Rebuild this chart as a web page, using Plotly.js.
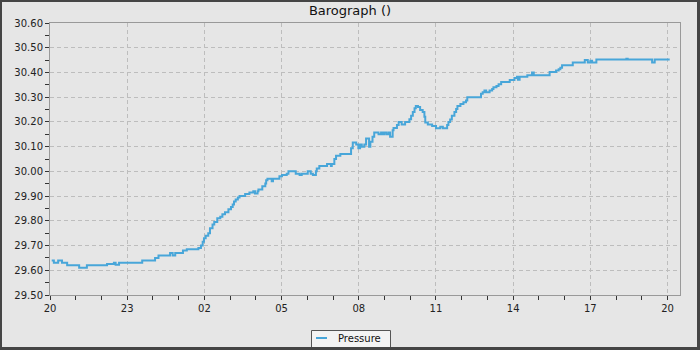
<!DOCTYPE html>
<html>
<head>
<meta charset="utf-8">
<script src="https://cdn.plot.ly/plotly-3.0.1.min.js"></script>
<style>
html,body{margin:0;padding:0;background:#e6e6e6;}
#wrap{position:relative;width:700px;height:350px;}
#chart{width:700px;height:350px;}
#frame{position:absolute;left:0;top:0;width:700px;height:350px;box-sizing:border-box;border-style:solid;border-color:#454545;border-width:2px 3px 3px 2px;pointer-events:none;}
</style>
</head>
<body>
<div id="wrap"><div id="chart"></div><div id="frame"></div></div>
<script>
// Start of record and minutes elapsed since then for each reading
const startTime = '2024-01-01T20:00:00';
const minutes = [4,9,19,28,40,68,86,133,149,153,161,215,245,253,280,286,292,310,319,346,352,356,359,363,369,373,379,383,390,397,402,408,416,422,426,429,433,438,442,455,465,474,478,484,486,495,502,504,507,517,520,535,541,552,556,573,582,587,601,608,613,620,622,628,646,655,657,663,667,677,702,706,714,719,723,727,733,737,744,747,752,756,766,772,776,779,784,789,793,799,801,809,813,820,828,838,842,846,850,853,858,863,869,873,875,881,891,900,910,916,926,929,933,937,943,947,950,957,964,970,973,1005,1009,1013,1017,1025,1031,1034,1041,1046,1052,1072,1083,1089,1091,1095,1113,1124,1128,1165,1180,1186,1190,1194,1219,1247,1254,1260,1264,1274,1344,1347,1404,1410,1445];
const pressure = [29.64,29.63,29.64,29.63,29.62,29.61,29.62,29.625,29.63,29.622,29.63,29.64,29.65,29.66,29.67,29.66,29.67,29.68,29.685,29.69,29.70,29.715,29.73,29.74,29.75,29.77,29.785,29.795,29.81,29.816,29.827,29.835,29.847,29.856,29.866,29.878,29.886,29.894,29.90,29.908,29.915,29.92,29.91,29.92,29.927,29.94,29.951,29.964,29.97,29.96,29.97,29.98,29.985,29.99,30.00,29.99,29.985,29.99,30.00,29.99,29.985,30.00,30.012,30.022,30.03,30.022,30.03,30.05,30.063,30.07,30.093,30.117,30.109,30.093,30.109,30.10,30.109,30.133,30.10,30.12,30.14,30.157,30.15,30.157,30.15,30.157,30.15,30.157,30.14,30.166,30.175,30.187,30.20,30.19,30.20,30.211,30.225,30.24,30.255,30.264,30.26,30.248,30.24,30.221,30.198,30.19,30.183,30.174,30.18,30.174,30.187,30.20,30.21,30.225,30.24,30.252,30.264,30.272,30.28,30.287,30.30,30.314,30.32,30.327,30.32,30.327,30.333,30.34,30.345,30.352,30.361,30.369,30.378,30.383,30.37,30.383,30.389,30.40,30.389,30.402,30.408,30.413,30.419,30.429,30.44,30.45,30.44,30.447,30.44,30.452,30.455,30.452,30.44,30.452,30.452];
const seriesName = 'Pressure';
const chartTitle = 'Barograph ()';
const rangeEndMinutes = 1469;

function pad(n){return (n<10?'0':'')+n;}
function fmt(d){return d.getFullYear()+'-'+pad(d.getMonth()+1)+'-'+pad(d.getDate())+' '+pad(d.getHours())+':'+pad(d.getMinutes())+':00';}
const t0 = new Date(startTime);
const times = minutes.map(m => fmt(new Date(t0.getTime()+m*60000)));
const xEnd = fmt(new Date(t0.getTime()+rangeEndMinutes*60000));

const font = {family:'DejaVu Sans, sans-serif', size:10, color:'#222'};
const lineColor = '#48a6d9';

const trace = {
  x: times, y: pressure, type:'scatter', mode:'lines', name: seriesName,
  line:{color:lineColor, width:2, shape:'hv'}
};

const L = 50, R = 680, T = 23, B = 295;
function px(x){return (x-L)/(R-L);}
function py(y){return (B-y)/(B-T);}

const layout = {
  width:700, height:350,
  margin:{l:50, r:20, t:23, b:55},
  paper_bgcolor:'#e6e6e6', plot_bgcolor:'#e6e6e6',
  font: font,
  showlegend:false,
  title:{text: chartTitle, font:{family:'DejaVu Sans, sans-serif', size:13, color:'#111'}, x:0.5, xref:'container', y:1-10.5/350, yref:'container', yanchor:'middle'},
  xaxis:{
    type:'date', range:[fmt(t0), xEnd],
    tick0: fmt(t0), dtick: 3*3600000, tickformat:'%H',
    ticks:'outside', ticklen:4, tickcolor:'#333', tickwidth:1,
    showline:true, mirror:true, linecolor:'#999', linewidth:1,
    showgrid:true, gridcolor:'#bdbdbd', griddash:'4px,3px', gridwidth:1,
    zeroline:false, tickfont: font,
    minor:{dtick:3600000, ticks:'outside', ticklen:4, tickcolor:'#333', showgrid:false}
  },
  yaxis:{
    range:[29.5, 30.6], dtick:0.1, tick0:29.5, tickformat:'.2f',
    ticks:'outside', ticklen:4, tickcolor:'#333', tickwidth:1,
    showline:true, mirror:true, linecolor:'#999', linewidth:1,
    showgrid:true, gridcolor:'#bdbdbd', griddash:'4px,3px', gridwidth:1,
    zeroline:false, tickfont: font,
    minor:{dtick:0.05, ticks:'outside', ticklen:4, tickcolor:'#333', showgrid:false}
  },
  annotations:[{
    xref:'paper', yref:'paper', x:px(336), y:py(338.5), xanchor:'left', yanchor:'middle',
    text: seriesName, showarrow:false,
    font:{family:'DejaVu Sans, sans-serif', size:10, color:'#111'}
  }],
  shapes:[{
    type:'rect', xref:'paper', yref:'paper', x0:px(311.5), x1:px(390.5), y0:py(330.5), y1:py(347.5),
    line:{color:'#555', width:1}, fillcolor:'#f3f3f3', layer:'above'
  },{
    type:'line', xref:'paper', yref:'paper', x0:px(316), x1:px(327), y0:py(338), y1:py(338),
    line:{color:lineColor, width:2}, layer:'above'
  }]
};

Plotly.newPlot('chart', [trace], layout, {displayModeBar:false, staticPlot:true});
</script>
</body>
</html>
